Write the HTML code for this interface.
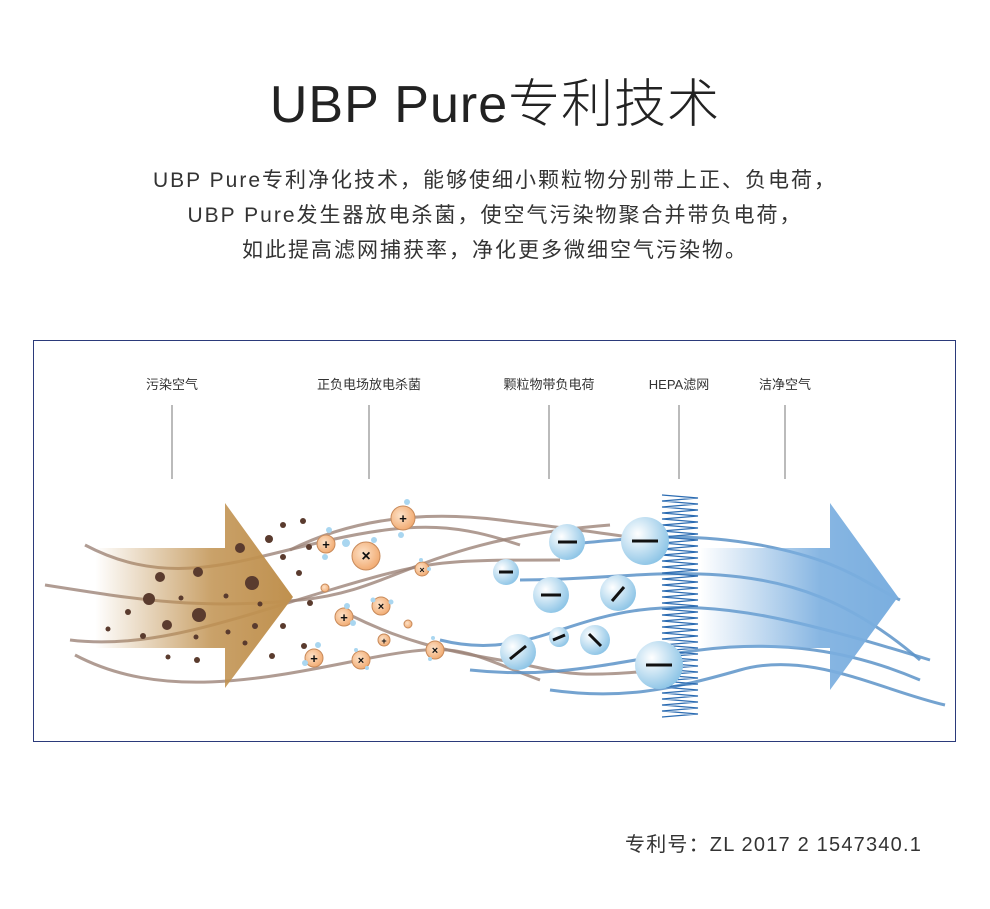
<!DOCTYPE html>
<html><head><meta charset="utf-8"><style>
body{margin:0;background:#fff;width:990px;height:909px;overflow:hidden;font-family:"Liberation Sans","Noto Sans CJK SC",sans-serif;color:#333}
.t{position:absolute;left:0;width:990px;text-align:center}
</style></head><body>
<div class="t" style="top:62px;font-size:52px;font-weight:300;color:#222;letter-spacing:1px">UBP Pure专利技术</div>
<div class="t" style="top:163px;font-size:21px;line-height:35px;color:#333;letter-spacing:2px">UBP Pure专利净化技术，能够使细小颗粒物分别带上正、负电荷，<br>UBP Pure发生器放电杀菌，使空气污染物聚合并带负电荷，<br>如此提高滤网捕获率，净化更多微细空气污染物。</div>
<svg style="position:absolute;left:0;top:0" width="990" height="909">
<defs>
<linearGradient id="bg" x1="95" x2="290" gradientUnits="userSpaceOnUse"><stop offset="0" stop-color="#c0914f" stop-opacity="0"/><stop offset="0.6" stop-color="#c0914f" stop-opacity="0.85"/><stop offset="1" stop-color="#c0914f"/></linearGradient>
<linearGradient id="blg" x1="700" x2="900" gradientUnits="userSpaceOnUse"><stop offset="0" stop-color="#7aaedf" stop-opacity="0"/><stop offset="0.6" stop-color="#7aaedf" stop-opacity="0.9"/><stop offset="1" stop-color="#7aaedf"/></linearGradient>
<radialGradient id="bc" cx="0.35" cy="0.35" r="0.7"><stop offset="0" stop-color="#fff"/><stop offset="1" stop-color="#8cc4e6"/></radialGradient>
<radialGradient id="oc" cx="0.4" cy="0.4" r="0.7"><stop offset="0" stop-color="#fde2c8"/><stop offset="1" stop-color="#f0a467"/></radialGradient>
</defs>
<rect x="33.5" y="340.5" width="922" height="401" fill="none" stroke="#2b3a7a"/>
<g font-size="13" fill="#333" text-anchor="middle">
<text x="172" y="389">污染空气</text><text x="369" y="389">正负电场放电杀菌</text><text x="549" y="389">颗粒物带负电荷</text><text x="679" y="389">HEPA滤网</text><text x="785" y="389">洁净空气</text></g>
<g stroke="#777" stroke-width="1"><line x1="172" y1="405" x2="172" y2="479"/><line x1="369" y1="405" x2="369" y2="479"/><line x1="549" y1="405" x2="549" y2="479"/><line x1="679" y1="405" x2="679" y2="479"/><line x1="785" y1="405" x2="785" y2="479"/></g>
<g fill="none" stroke="#9c8378" stroke-opacity="0.8" stroke-width="3">
<path d="M85 545 C170 590 240 560 330 540 S460 525 520 545"/>
<path d="M45 585 C140 600 200 610 300 600 S420 540 610 525"/>
<path d="M70 640 C150 650 230 620 330 590 S440 560 560 560"/>
<path d="M75 655 C160 700 260 680 360 660 S460 650 540 680"/>
<path d="M290 550 C350 520 420 510 500 520 S580 530 650 540"/>
<path d="M350 615 C400 640 440 650 500 660 S560 680 660 670"/>
</g>
<path d="M95 548 H225 V503 L293 597 L225 688 V648 H95 Z" fill="url(#bg)"/>
<g fill="none" stroke="#5c93c8" stroke-opacity="0.85" stroke-width="3">
<path d="M560 545 C620 540 680 530 760 545 S860 580 900 600"/>
<path d="M520 580 C600 580 650 570 720 575 S850 600 920 660"/>
<path d="M440 640 C520 660 560 620 640 610 S800 620 930 660"/>
<path d="M470 670 C560 680 620 660 700 650 S850 650 920 680"/>
<path d="M550 690 C620 700 670 690 740 670 S880 690 945 705"/>
</g>
<path d="M700 548 H830 V503 L898 597 L830 690 V648 H700 Z" fill="url(#blg)"/>
<g stroke="#2c6cb2" stroke-width="1.2" fill="none">
<path d="M662 495 L698 498 L662 501 L698 504 L662 507 L698 510 L662 513 L698 516 L662 519 L698 522 L662 525 L698 528 L662 531 L698 534 L662 537 L698 540 L662 543 L698 546 L662 549 L698 552 L662 555 L698 558 L662 561 L698 564 L662 567 L698 570 L662 573 L698 576 L662 579 L698 582 L662 585 L698 588 L662 591 L698 594 L662 597 L698 600 L662 603 L698 606 L662 609 L698 612 L662 615 L698 618 L662 621 L698 624 L662 627 L698 630 L662 633 L698 636 L662 639 L698 642 L662 645 L698 648 L662 651 L698 654 L662 657 L698 660 L662 663 L698 666 L662 669 L698 672 L662 675 L698 678 L662 681 L698 684 L662 687 L698 690 L662 693 L698 696 L662 699 L698 702 L662 705 L698 708 L662 711 L698 714 L662 717"/></g>
<g fill="#5a3b2e">
<circle cx="160" cy="577" r="5"/><circle cx="198" cy="572" r="5"/><circle cx="149" cy="599" r="6"/><circle cx="181" cy="598" r="2.5"/><circle cx="128" cy="612" r="3"/><circle cx="199" cy="615" r="7"/><circle cx="167" cy="625" r="5"/><circle cx="108" cy="629" r="2.5"/><circle cx="143" cy="636" r="3"/><circle cx="196" cy="637" r="2.5"/><circle cx="168" cy="657" r="2.5"/><circle cx="197" cy="660" r="3"/><circle cx="240" cy="548" r="5"/><circle cx="252" cy="583" r="7"/><circle cx="226" cy="596" r="2.5"/><circle cx="260" cy="604" r="2.5"/><circle cx="255" cy="626" r="3"/><circle cx="228" cy="632" r="2.5"/><circle cx="245" cy="643" r="2.5"/><circle cx="283" cy="525" r="3"/><circle cx="303" cy="521" r="3"/><circle cx="269" cy="539" r="4"/><circle cx="309" cy="547" r="3"/><circle cx="283" cy="557" r="3"/><circle cx="299" cy="573" r="3"/><circle cx="310" cy="603" r="3"/><circle cx="283" cy="626" r="3"/><circle cx="304" cy="646" r="3"/><circle cx="272" cy="656" r="3"/>
</g>
<g stroke="#c88a5a" stroke-width="1" fill="url(#oc)">
<circle cx="326" cy="544" r="9"/><circle cx="403" cy="518" r="12"/><circle cx="366" cy="556" r="14"/><circle cx="422" cy="569" r="7"/><circle cx="325" cy="588" r="4"/><circle cx="344" cy="617" r="9"/><circle cx="381" cy="606" r="9"/><circle cx="408" cy="624" r="4"/><circle cx="384" cy="640" r="6"/><circle cx="435" cy="650" r="9"/><circle cx="314" cy="658" r="9"/><circle cx="361" cy="660" r="9"/></g>
<g font-size="13" font-weight="bold" fill="#111" text-anchor="middle">
<text x="326" y="549">+</text><text x="403" y="523">+</text><text x="366" y="561" font-size="16">×</text><text x="422" y="573" font-size="9">×</text><text x="344" y="622">+</text><text x="381" y="610" font-size="11">×</text><text x="384" y="644" font-size="9">+</text><text x="435" y="654" font-size="11">×</text><text x="314" y="663">+</text><text x="361" y="664" font-size="11">×</text></g>
<g fill="#a9d6f0"><circle cx="407" cy="502" r="3"/><circle cx="401" cy="535" r="3"/><circle cx="346" cy="543" r="4"/><circle cx="374" cy="540" r="3"/><circle cx="329" cy="530" r="3"/><circle cx="325" cy="557" r="3"/><circle cx="421" cy="560" r="2"/><circle cx="429" cy="569" r="2"/><circle cx="347" cy="606" r="3"/><circle cx="353" cy="623" r="3"/><circle cx="373" cy="600" r="2.5"/><circle cx="391" cy="602" r="2.5"/><circle cx="305" cy="663" r="3"/><circle cx="318" cy="645" r="3"/><circle cx="356" cy="650" r="2"/><circle cx="367" cy="668" r="2"/><circle cx="433" cy="638" r="2"/><circle cx="430" cy="659" r="2"/></g>
<g fill="url(#bc)">
<circle cx="567" cy="542" r="18"/><circle cx="645" cy="541" r="24"/><circle cx="506" cy="572" r="13"/><circle cx="551" cy="595" r="18"/><circle cx="618" cy="593" r="18"/><circle cx="518" cy="652" r="18"/><circle cx="559" cy="637" r="10"/><circle cx="595" cy="640" r="15"/><circle cx="659" cy="665" r="24"/></g>
<g stroke="#111" stroke-width="3" stroke-linecap="butt">
<line x1="558" y1="542" x2="577" y2="542"/><line x1="632" y1="541" x2="658" y2="541"/><line x1="499" y1="572" x2="513" y2="572"/><line x1="541" y1="595" x2="561" y2="595"/><line x1="612" y1="601" x2="624" y2="587"/><line x1="510" y1="659" x2="526" y2="646"/><line x1="553" y1="640" x2="565" y2="635"/><line x1="589" y1="634" x2="601" y2="646"/><line x1="646" y1="665" x2="672" y2="665"/></g>
</svg>
<div style="position:absolute;left:625px;top:828px;font-size:20px;color:#333;letter-spacing:1.2px">专利号：ZL 2017 2 1547340.1</div>
</body></html>
